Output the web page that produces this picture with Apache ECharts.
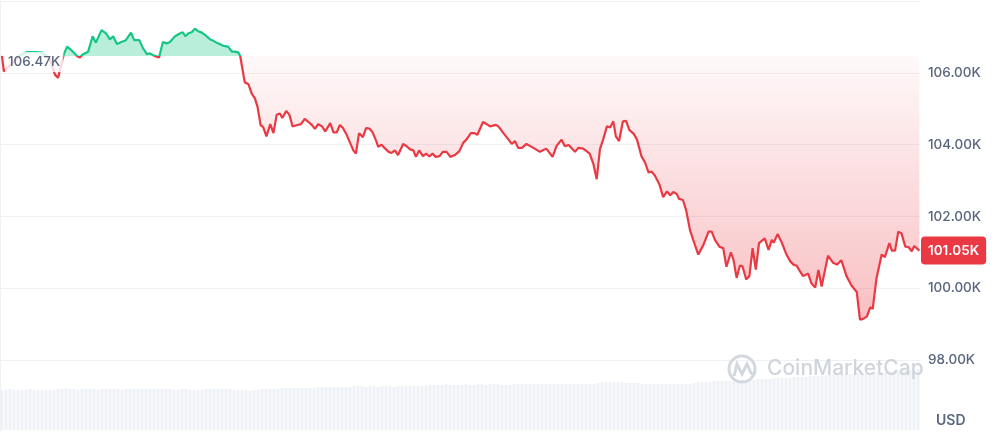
<!DOCTYPE html>
<html>
<head>
<meta charset="utf-8">
<title>BTC 24h</title>
<script src="https://cdn.jsdelivr.net/npm/echarts@6/dist/echarts.min.js"></script>
<style>
    html, body { margin: 0; padding: 0; background: #fff; }
    #charts { width: 998px; height: 432px; }
</style>
</head>
<body>
<div id="charts"></div>
<script>
// minutes since start of the 24h window
var times = [3, 6, 16, 31, 42, 55, 67, 78, 86, 91, 95, 100, 105, 113, 121, 125, 130, 138, 141, 145,
    150, 159, 166, 172, 177, 183, 190, 197, 205, 210, 218, 224, 230, 235, 241, 249, 255, 261, 266, 274,
    282, 286, 290, 295, 300, 305, 310, 316, 322, 329, 334, 339, 344, 350, 357, 363, 368, 373, 376, 383,
    389, 394, 399, 403, 408, 412, 417, 423, 428, 433, 438, 442, 448, 453, 458, 464, 471, 477, 483, 488,
    493, 498, 504, 509, 517, 522, 527, 532, 537, 543, 548, 553, 557, 562, 568, 573, 578, 583, 589, 592,
    597, 603, 608, 613, 618, 623, 631, 637, 642, 647, 651, 656, 662, 667, 672, 677, 682, 688, 693, 699,
    705, 712, 719, 725, 730, 737, 743, 747, 756, 762, 767, 776, 780, 788, 796, 801, 806, 811, 817, 824,
    830, 837, 845, 855, 865, 871, 879, 884, 890, 900, 905, 913, 923, 929, 934, 939, 944, 950, 955, 960,
    964, 969, 975, 980, 985, 992, 997, 1004, 1010, 1015, 1020, 1025, 1032, 1038, 1044, 1049, 1054, 1059, 1063, 1069,
    1074, 1080, 1085, 1093, 1101, 1109, 1114, 1119, 1126, 1132, 1137, 1144, 1148, 1153, 1158, 1162, 1168, 1173, 1178, 1183,
    1188, 1197, 1203, 1208, 1211, 1217, 1224, 1231, 1237, 1242, 1247, 1252, 1257, 1265, 1270, 1276, 1281, 1286, 1296, 1304,
    1310, 1317, 1325, 1333, 1341, 1346, 1351, 1357, 1362, 1366, 1372, 1380, 1385, 1392, 1396, 1401, 1406, 1411, 1417, 1422,
    1427, 1431, 1439];

// price, USD
var prices = [106470, 106040, 106220, 106490, 106580, 106580, 106560, 106380, 105950, 105860, 106160, 106520, 106730, 106610, 106460, 106430, 106520, 106590, 106610, 107020,
    106840, 107190, 107100, 106930, 107020, 106800, 106860, 106910, 107120, 106910, 106910, 106680, 106520, 106540, 106480, 106430, 106860, 106820, 106860, 107020,
    107100, 107130, 107020, 107100, 107130, 107230, 107160, 107120, 107040, 106930, 106890, 106840, 106800, 106750, 106730, 106590, 106590, 106570, 106470, 105740,
    105680, 105420, 105290, 105060, 104540, 104490, 104230, 104570, 104320, 104830, 104870, 104740, 104940, 104830, 104510, 104540, 104570, 104720, 104630, 104550,
    104440, 104570, 104510, 104370, 104600, 104340, 104340, 104550, 104460, 104260, 104050, 103840, 103750, 104320, 104210, 104460, 104450, 104350, 104100, 103940,
    104000, 103890, 103800, 103770, 103840, 103710, 104020, 103950, 103870, 103840, 103660, 103840, 103680, 103750, 103670, 103750, 103660, 103680, 103800, 103800,
    103660, 103710, 103820, 104050, 104140, 104320, 104320, 104270, 104630, 104570, 104510, 104550, 104510, 104320, 104140, 104020, 104100, 103910, 103910, 104020,
    103960, 103890, 103800, 103890, 103660, 103960, 104140, 103960, 103990, 103800, 103910, 103890, 103750, 103450, 103040, 103870, 104140, 104510, 104480, 104650,
    104230, 104100, 104650, 104660, 104410, 104300, 104140, 103680, 103490, 103230, 103250, 103140, 102900, 102540, 102700, 102590, 102680, 102630, 102490, 102460,
    102170, 101620, 101350, 100940, 101210, 101580, 101580, 101350, 101160, 101120, 100600, 101000, 100800, 100290, 100630, 100620, 100250, 100340, 101120, 100520,
    101260, 101390, 101070, 101350, 101270, 101510, 101260, 100940, 100750, 100660, 100630, 100480, 100340, 100410, 100140, 100020, 100510, 100050, 100910, 100710,
    100660, 100780, 100340, 100070, 99900, 99130, 99150, 99220, 99470, 99430, 100290, 100940, 100870, 101260, 101050, 101050, 101580, 101530, 101160, 101150,
    101030, 101180, 101050];

// volume bars, relative height
var volumes = [40, 40, 41, 40, 40, 40, 40, 41, 40, 40, 40, 40, 40, 40, 41,
    41, 42, 41, 41, 40, 41, 41, 41, 41, 40, 41, 41, 41, 41, 41, 40, 41, 41, 41, 41, 41, 41, 41, 41, 41, 41, 41, 41, 40, 40,
    41, 41, 40, 40, 40, 40, 41, 41, 41, 41, 41, 41, 41, 40, 40, 40, 40, 39, 40, 40, 41, 41, 41, 41, 41,
    42, 42, 42, 42, 42, 42, 42, 42, 42, 43, 43, 43, 43, 43, 43, 43, 43, 43, 44, 44, 44, 43, 44, 44, 43, 44, 44, 44, 43, 44,
    44, 44, 44, 44, 44, 44, 44, 45, 45, 45, 45, 46, 45, 45, 45, 45, 46, 45, 45, 46, 46, 45, 46, 46, 46, 45, 45, 45, 46, 46,
    46, 46, 46, 46, 46, 46, 46, 46, 46, 46, 46, 46, 46, 46, 46, 46, 46, 46, 46, 47, 48, 48, 48, 48, 48, 48, 47, 47, 47, 47,
    46, 46, 46, 46, 46, 46, 46, 46, 46, 46, 46, 46, 46, 47, 48,
    48, 48, 48, 49, 49, 49, 49, 49, 50, 50, 50, 50, 50, 50, 51, 51, 51, 51, 52, 52, 52, 52, 52, 53, 53,
    53, 53, 54, 54, 54, 54, 55, 55, 55, 55, 56, 56, 56, 56, 57, 57, 57, 57, 58, 58, 58, 58, 59, 59, 59, 60, 60, 60, 60, 61];

var openPrice = 106470;
var lastPrice = 101050;
var yMin = 96000, yMax = 108000, yStep = 2000;

var green = '#16c784';
var red = '#ea3943';
var grey = '#58667e';

function kLabel(v) {
    return (v / 1000).toFixed(2) + 'K';
}

var chart = echarts.init(document.getElementById('charts'));
chart.setOption({
    animation: false,
    textStyle: { fontFamily: 'Inter' },
    grid: [
        { left: 0, right: 78, top: 1, bottom: -6 },
        { left: 0, right: 78, top: 360, bottom: 2 }
    ],
    xAxis: [
        { type: 'value', min: 0, max: 1440, show: false },
        { type: 'category', gridIndex: 1, show: false, data: volumes.map(function (v, i) { return i; }) }
    ],
    yAxis: [
        {
            type: 'value',
            position: 'right',
            min: yMin,
            max: yMax,
            interval: yStep,
            axisLine: { show: true, lineStyle: { color: '#eff2f5' } },
            axisTick: { show: false },
            splitLine: { lineStyle: { color: '#eff2f5' } },
            axisLabel: {
                margin: 8,
                color: grey,
                fontSize: 13.5,
                fontWeight: 500,
                showMinLabel: false,
                showMaxLabel: false,
                formatter: kLabel
            }
        },
        { type: 'value', gridIndex: 1, min: 0, max: 70, show: false }
    ],
    visualMap: {
        show: false,
        type: 'piecewise',
        seriesIndex: 3,
        dimension: 1,
        pieces: [
            { gt: openPrice, lte: yMax, color: green },
            { gte: yMin, lte: openPrice, color: red }
        ]
    },
    graphic: [
        { type: 'circle', shape: { cx: 742, cy: 369, r: 13 }, style: { fill: 'none', stroke: '#d3d8df', lineWidth: 3 }, silent: true, z: 10 },
        { type: 'polyline', shape: { points: [[734, 376], [737, 364], [742, 374], [747, 364], [751, 373], [755, 375]] }, style: { fill: 'none', stroke: '#d3d8df', lineWidth: 3 }, silent: true, z: 10 },
        { type: 'text', left: 767, top: 358, style: { text: 'CoinMarketCap', fill: '#d0d5dc', font: '500 21px Inter' }, silent: true, z: 10 },
        { type: 'text', left: 936, top: 414, style: { text: 'USD', fill: grey, font: '600 14px Inter' }, silent: true }
    ],
    series: [
        {
            // volume
            type: 'bar',
            xAxisIndex: 1,
            yAxisIndex: 1,
            data: volumes,
            barWidth: 3,
            itemStyle: { color: '#eef1f5' },
            silent: true
        },
        {
            // fill above open
            type: 'line',
            data: times.map(function (t, i) { return [t, Math.max(prices[i], openPrice)]; }),
            symbol: 'none',
            lineStyle: { width: 0, opacity: 0 },
            areaStyle: { origin: openPrice, opacity: 1, color: 'rgba(22,199,132,0.3)' },
            silent: true
        },
        {
            // fill below open
            type: 'line',
            data: times.map(function (t, i) { return [t, Math.min(prices[i], openPrice)]; }),
            symbol: 'none',
            lineStyle: { width: 0, opacity: 0 },
            areaStyle: {
                origin: openPrice,
                opacity: 1,
                color: new echarts.graphic.LinearGradient(0, 0, 0, 1, [
                    { offset: 0, color: 'rgba(234,57,67,0.03)' },
                    { offset: 1, color: 'rgba(234,57,67,0.32)' }
                ])
            },
            silent: true
        },
        {
            type: 'line',
            data: times.map(function (t, i) { return [t, prices[i]]; }),
            symbol: 'none',
            lineStyle: { width: 2.2 },
            z: 3,
            markLine: {
                symbol: 'none',
                silent: true,
                z: 10,
                data: [
                    {
                        yAxis: openPrice,
                        lineStyle: { width: 0, color: 'rgba(0,0,0,0)' },
                        label: {
                            position: 'insideStartTop',
                            distance: [5, -16],
                            formatter: kLabel(openPrice),
                            color: grey,
                            fontSize: 13.5,
                            fontWeight: 500,
                            backgroundColor: 'rgba(255,255,255,0.8)',
                            padding: [3, 3]
                        }
                    },
                    {
                        yAxis: lastPrice,
                        lineStyle: { width: 0, color: 'rgba(0,0,0,0)' },
                        label: {
                            position: 'end',
                            distance: 1,
                            formatter: kLabel(lastPrice),
                            color: '#fff',
                            fontSize: 13.5,
                            fontWeight: 600,
                            backgroundColor: red,
                            borderRadius: 4,
                            padding: [7, 7]
                        }
                    }
                ]
            }
        }
    ]
});
</script>
</body>
</html>
